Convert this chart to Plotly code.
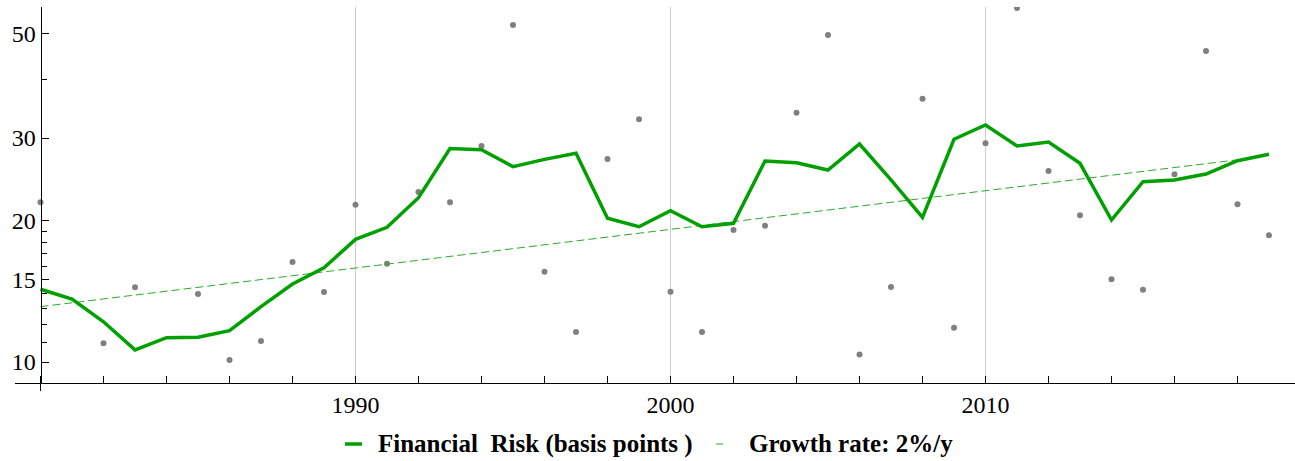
import plotly.graph_objects as go

# ---- data -------------------------------------------------------------
years = list(range(1980, 2020))

risk_line = [14.29, 13.62, 12.18, 10.61, 11.27, 11.29, 11.66, 13.12, 14.66, 15.88,
             18.25, 19.36, 22.39, 28.50, 28.33, 26.08, 27.03, 27.84, 20.24, 19.42,
             21.01, 19.42, 19.75, 26.81, 26.59, 25.65, 29.14, 24.43, 20.34, 29.83,
             31.99, 28.86, 29.43, 26.51, 20.07, 24.22, 24.43, 25.15, 26.85, 27.71]

risk_obs = [21.89, None, 10.96, 14.43, None, 13.96, 10.10, 11.08, 16.33, 14.10,
            21.63, 16.20, 23.02, 21.90, 28.86, 52.25, 15.57, 11.58, 27.07, 32.89,
            14.12, 11.58, 19.11, 19.52, 33.98, 49.75, 10.38, 14.45, 36.39, 11.83,
            29.24, 56.80, 25.53, 20.54, 15.01, 14.26, 25.12, 46.00, 21.68, 18.62]

trend_years = [1980, 2018]
trend_vals = [13.12, 26.97]

x_tick_vals = [1990, 2000, 2010]
x_tick_text = ["1990", "2000", "2010"]
y_tick_vals = [10, 15, 20, 30, 50]
y_tick_text = ["10", "15", "20", "30", "50"]
y_minor_vals = [11, 12, 13, 14, 16, 17, 18, 19, 40]

series_names = ["Financial  Risk (basis points )", "Growth rate: 2%/y"]

# ---- styling ----------------------------------------------------------
GREEN = "#00a000"
TREND_GREEN = "#2aaa2a"
DOT_GRAY = "#808080"
SERIF = "Liberation Serif"

W, H = 1295, 461
M_L, M_R, M_T, M_B = 15, 0, 7, 78
PLOT_W = W - M_L - M_R
PLOT_H = H - M_T - M_B


def px_x(x):
    """pixel column -> paper x"""
    return (x - M_L) / PLOT_W


def px_y(y):
    """pixel row -> paper y"""
    return (H - M_B - y) / PLOT_H


fig = go.Figure()

fig.add_trace(go.Scatter(
    x=years, y=risk_obs, mode="markers",
    marker=dict(size=6, color=DOT_GRAY),
    showlegend=False, hoverinfo="x+y",
))

fig.add_trace(go.Scatter(
    x=trend_years, y=trend_vals, mode="lines",
    line=dict(color=TREND_GREEN, width=1, dash="8px,4px"),
    name=series_names[1], showlegend=False,
))

fig.add_trace(go.Scatter(
    x=years, y=risk_line, mode="lines",
    line=dict(color=GREEN, width=3.5),
    name=series_names[0], showlegend=False,
))

# x range: 31.5 px per year, y-axis sits at 1980
px_per_year = 31.5
x0 = 1980 - (40.5 - M_L) / px_per_year
x1 = x0 + PLOT_W / px_per_year

fig.update_layout(
    width=W, height=H,
    margin=dict(l=M_L, r=M_R, t=M_T, b=M_B, pad=0),
    paper_bgcolor="white", plot_bgcolor="white",
    font=dict(family=SERIF, size=24, color="black"),
    showlegend=False,
    xaxis=dict(
        range=[x0, x1],
        tickmode="array", tickvals=x_tick_vals, ticktext=x_tick_text,
        ticks="inside", ticklen=7, tickcolor="black", tickwidth=1,
        showgrid=True, gridcolor="#cccccc", gridwidth=1,
        showline=True, linecolor="black", linewidth=1,
        zeroline=False,
        tickfont=dict(family=SERIF, size=24, color="black"),
        minor=dict(tickmode="linear", tick0=1980, dtick=2,
                   ticks="inside", ticklen=7, tickcolor="black",
                   showgrid=False),
    ),
    yaxis=dict(
        type="log",
        range=[0.95525, 1.75645],
        anchor="free", position=px_x(40.5),
        tickmode="array", tickvals=y_tick_vals, ticktext=y_tick_text,
        ticks="inside", ticklen=7, tickcolor="black", tickwidth=1,
        showgrid=False, zeroline=False,
        showline=True, linecolor="black", linewidth=1,
        tickfont=dict(family=SERIF, size=24, color="black"),
        minor=dict(tickmode="array", tickvals=y_minor_vals,
                   ticks="inside", ticklen=5, tickcolor="black",
                   showgrid=False),
    ),
)

# y axis line runs a little past the x axis
fig.add_shape(type="line", xref="x", yref="paper",
              x0=1980, x1=1980, y0=0, y1=px_y(391),
              line=dict(color="black", width=1))

# legend, drawn below the plot
leg_y = px_y(444)
fig.add_shape(type="line", xref="paper", yref="paper",
              x0=px_x(345), x1=px_x(362), y0=leg_y, y1=leg_y,
              line=dict(color=GREEN, width=3.5))
fig.add_shape(type="line", xref="paper", yref="paper",
              x0=px_x(716), x1=px_x(723), y0=leg_y, y1=leg_y,
              line=dict(color=TREND_GREEN, width=1))
fig.add_annotation(xref="paper", yref="paper", x=px_x(376), y=leg_y,
                   text="<b>%s</b>" % series_names[0], showarrow=False,
                   xanchor="left", yanchor="middle",
                   font=dict(family=SERIF, size=25, color="black"))
fig.add_annotation(xref="paper", yref="paper", x=px_x(747), y=leg_y,
                   text="<b>%s</b>" % series_names[1], showarrow=False,
                   xanchor="left", yanchor="middle",
                   font=dict(family=SERIF, size=25, color="black"))

fig.write_html("out.html")
